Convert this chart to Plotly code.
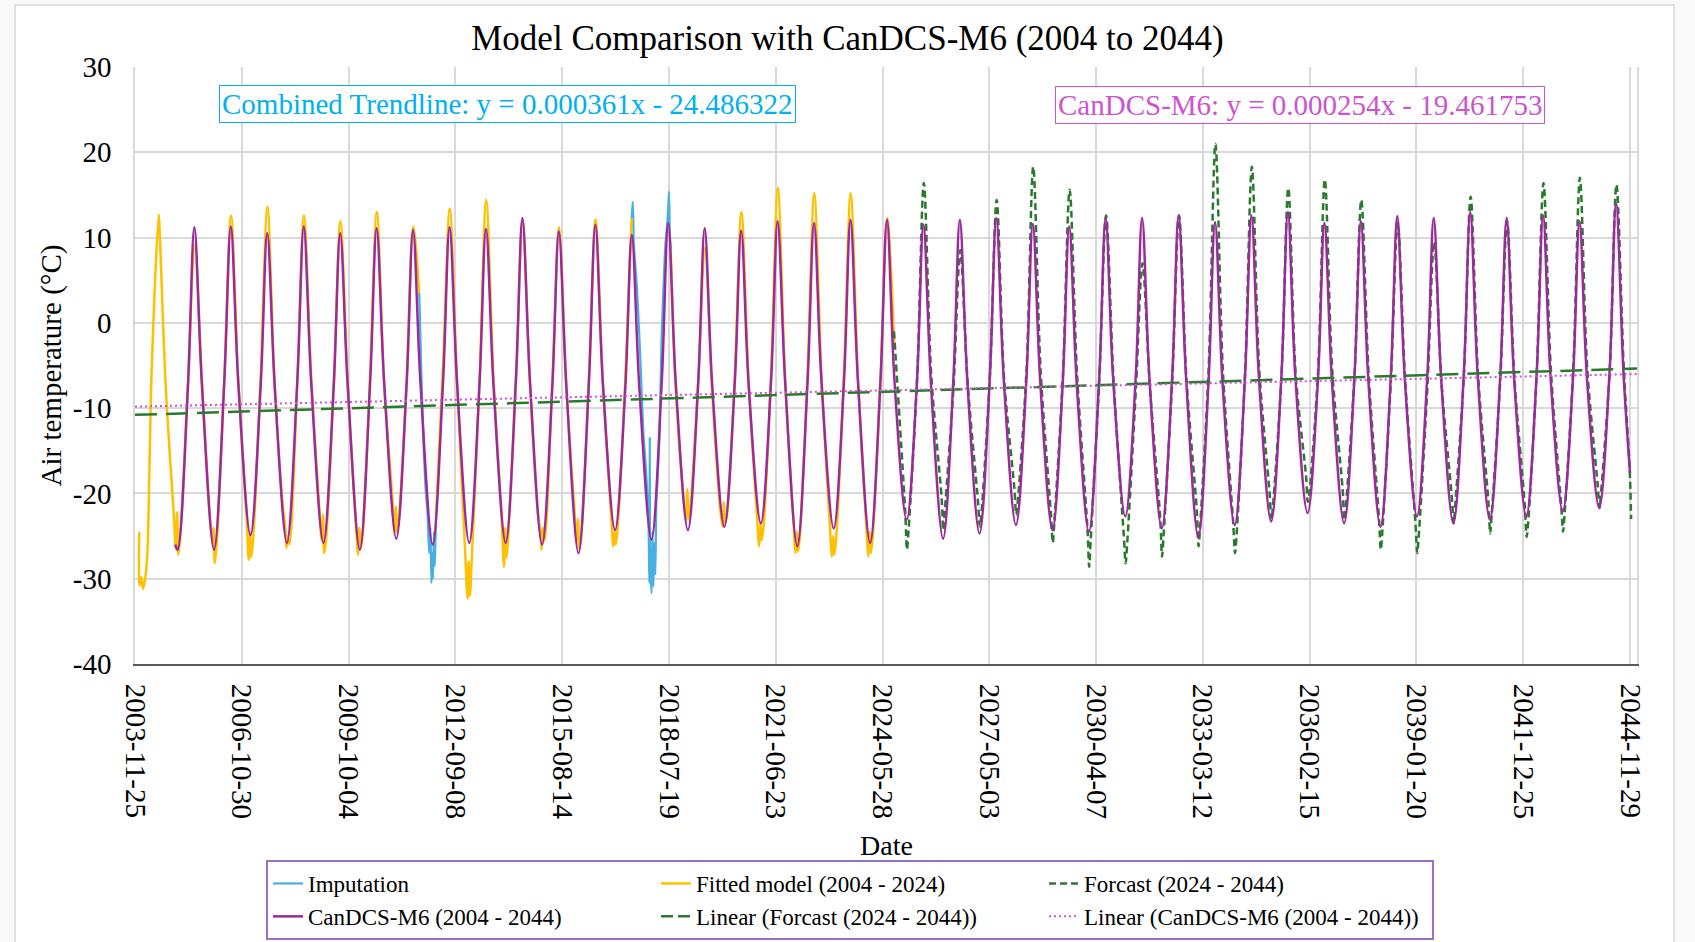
import datetime as dt
import plotly.graph_objects as go

SERIF = "Liberation Serif, Times New Roman, serif"

# ---------------- axis definitions ----------------
date_ticks = ["2003-11-25", "2006-10-30", "2009-10-04", "2012-09-08", "2015-08-14",
              "2018-07-19", "2021-06-23", "2024-05-28", "2027-05-03", "2030-04-07",
              "2033-03-12", "2036-02-15", "2039-01-20", "2041-12-25", "2044-11-29"]
x_start, x_end = "2003-11-25", "2045-02-07"
y_ticks = [-40, -30, -20, -10, 0, 10, 20, 30]
y_tick_text = ["-40", "-30", "-20", "-10", "0", "10", "20", "30"]

# ---------------- trendline equations (x = Excel serial date) ----------------
combined_slope, combined_icpt = 0.000361, -24.486322
candcs_slope, candcs_icpt = 0.000254, -19.461753

# ---------------- CanDCS-M6 (2004 - 2044) ----------------
candcs_md = ("01-25", "05-08", "07-12", "09-25")
candcs_years = list(range(2005, 2045))
candcs_trough = [-26.6, -26.6, -24.9, -25.8, -25.8, -26.6, -25.3, -26.0, -25.8, -25.8,
                 -26.0, -27.0, -24.3, -25.4, -24.3, -23.9, -23.5, -26.2, -24.1, -25.8,
                 -23.1, -25.3, -24.7, -23.7, -24.3, -24.5, -22.7, -24.1, -25.1, -23.7,
                 -23.3, -22.3, -23.5, -23.9, -22.7, -23.5, -23.1, -22.7, -22.1, -21.7]
candcs_spring = [-7.5, -6.8, -7.2, -6.9, -7.4, -7.0, -7.3, -6.8, -7.1, -6.5,
                 -7.3, -7.0, -7.6, -6.9, -7.1, -7.2, -6.6, -6.9, -6.8, -6.7,
                 -6.9, -6.6, -6.5, -6.8, -7.0, -6.5, -6.6, -6.4, -6.9, -6.4,
                 -6.2, -6.7, -6.6, -6.3, -6.4, -6.1, -6.4, -6.2, -6.4, -5.8]
candcs_peak = [11.2, 11.3, 10.5, 11.3, 10.5, 11.1, 10.9, 11.2, 11.0, 12.3,
               10.7, 11.5, 10.3, 11.7, 11.1, 10.8, 11.9, 11.7, 12.1, 12.1,
               11.5, 12.1, 12.3, 11.6, 11.3, 12.3, 12.3, 12.6, 11.8, 12.6,
               13.0, 11.7, 11.9, 12.5, 12.3, 13.0, 12.3, 12.6, 11.9, 14.0]
candcs_autumn = [-7.2, -7.0, -7.4, -7.1, -7.3, -6.9, -7.2, -7.0, -7.3, -6.7,
                 -7.4, -7.1, -7.5, -7.0, -7.2, -7.3, -6.8, -7.0, -6.9, -6.8,
                 -7.1, -6.8, -6.6, -7.0, -7.1, -6.6, -6.8, -6.5, -7.0, -6.5,
                 -6.4, -6.8, -6.7, -6.5, -6.6, -6.3, -6.6, -6.4, -6.6, -6.0]
candcs_head_dates, candcs_head_temp = ["2005-01-01"], [-26.0]
candcs_tail_dates, candcs_tail_temp = ["2044-11-29"], [-17.6]

# ---------------- Fitted model (2004 - 2024) ----------------
fitted_md = ("01-08", "01-20", "02-01", "02-20", "05-08", "07-14", "09-25", "12-16")
fitted_years = [2005, 2006, 2007, 2008, 2009, 2010, 2013, 2014, 2015, 2016,
                2019, 2020, 2021, 2022, 2023]
fitted_jan_a = [-26.5, -25.5, -27.8, -24.0, -25.5, -27.2, -32.3, -28.6, -24.5, -25.5,
                -23.3, -23.9, -26.2, -27.0, -27.4]
fitted_jan_b = [-22.2, -24.0, -24.5, -26.4, -22.5, -24.0, -28.0, -24.0, -26.6, -23.0,
                -19.5, -21.0, -23.5, -24.5, -25.0]
fitted_trough = [-27.2, -28.2, -27.5, -25.0, -27.0, -26.5, -32.0, -27.5, -24.0, -26.6,
                 -23.0, -23.5, -25.5, -26.8, -27.2]
fitted_feb = [-25.0, -26.0, -25.5, -26.0, -25.5, -25.0, -27.5, -25.0, -25.5, -25.0,
              -21.5, -22.5, -24.0, -25.0, -25.0]
fitted_spring = [-7.5, -6.5, -6.0, -7.0, -7.5, -6.0, -7.0, -7.0, -7.0, -6.5,
                 -7.0, -6.5, -6.0, -6.0, -6.0]
fitted_peak = [9.1, 12.6, 13.6, 12.6, 11.9, 13.0, 14.4, 11.9, 11.2, 12.1,
               8.8, 13.0, 15.8, 15.2, 15.2]
fitted_autumn = [-6.5, -7.0, -7.5, -6.5, -7.0, -7.0, -6.5, -7.0, -7.5, -7.0,
                 -8.0, -7.0, -6.5, -6.5, -6.5]
fitted_dec = [-23.0, -22.5, -21.5, -22.0, -23.5, -20.5, -23.0, -22.5, -22.0, -22.5,
              -22.0, -22.5, -23.0, -23.5, -23.5]
# years with record gaps (None = no fitted value, imputation used instead)
fitted_extra_dates = [
    "2004-01-06", "2004-01-09", "2004-01-27", "2004-02-14", "2004-03-10", "2004-03-28",
    "2004-05-10", "2004-07-20", "2004-07-30", "2004-09-28", "2004-12-15",
    "2011-01-08", "2011-01-20", "2011-02-01", "2011-02-20", "2011-05-08", "2011-07-14",
    "2011-09-12", "2011-11-15",
    "2012-02-27", "2012-05-08", "2012-07-14", "2012-09-25", "2012-12-16",
    "2017-01-08", "2017-01-20", "2017-02-01", "2017-02-20", "2017-05-08", "2017-07-10",
    "2017-12-15",
    "2018-08-06", "2018-09-25", "2018-12-16",
    "2024-01-08", "2024-01-20", "2024-02-01", "2024-02-20", "2024-05-08", "2024-07-14",
    "2024-09-25"]
fitted_extra_temp = [
    -24.5, -30.8, -29.8, -31.2, -29.6, -27.0,
    -5.5, 12.7, 10.5, -7.5, -22.0,
    -24.7, -21.5, -24.5, -23.0, -7.0, 11.3,
    3.5, None,
    -22.5, -5.0, 13.4, -7.0, -27.0,
    -26.2, -24.5, -26.0, -24.0, -6.5, 12.3,
    None,
    8.5, -7.5, -21.0,
    -27.4, -24.5, -27.0, -25.0, -6.5, 12.3,
    -3.0]

# ---------------- Imputation ----------------
imput_dates = [
    "2011-09-12", "2011-10-05", "2011-10-28", "2011-11-15", "2011-12-05", "2011-12-20",
    "2012-01-02", "2012-01-12", "2012-01-20", "2012-01-28", "2012-02-06", "2012-02-14",
    "2012-02-27",
    "2014-01-01",
    "2017-07-10", "2017-07-22", "2017-08-02", "2017-08-30", "2017-10-02", "2017-11-05",
    "2017-12-01", "2017-12-25", "2018-01-04", "2018-01-08", "2018-01-12", "2018-01-27",
    "2018-02-05", "2018-02-13", "2018-02-23", "2018-03-05", "2018-03-15", "2018-03-25",
    "2018-04-14", "2018-05-07", "2018-06-10", "2018-07-07", "2018-07-20", "2018-07-28",
    "2018-08-06"]
imput_temp = [
    3.5, -6.5, -15.0, -19.5, -22.5, -27.0,
    -24.0, -30.5, -27.0, -30.0, -24.5, -28.5,
    -22.5,
    None,
    12.3, 14.2, 9.0, 4.6, -3.2, -12.9,
    -17.2, -22.7, -30.5, -13.5, -28.0, -31.7,
    -24.5, -30.9, -25.8, -29.5, -20.8, -18.8,
    -13.7, -1.6, 8.5, 12.5, 15.4, 10.5,
    8.5]

# ---------------- Forecast (2024 - 2044) ----------------
forecast_md = ("01-10", "01-28", "02-12", "05-10", "07-16", "09-28")
forecast_years = list(range(2025, 2045))
forecast_jan = [-22.0, -20.5, -21.0, -19.5, -22.5, -24.0, -25.0, -23.0, -22.0, -23.5,
                -20.0, -18.0, -19.5, -23.0, -23.5, -20.5, -21.0, -21.5, -21.5, -19.0]
forecast_trough = [-26.6, -24.3, -23.9, -22.5, -25.8, -28.6, -28.2, -27.4, -26.2, -27.0,
                   -23.1, -21.0, -23.1, -26.6, -27.0, -23.5, -24.7, -25.1, -24.5, -21.7]
forecast_feb = [-24.5, -22.0, -22.5, -21.0, -23.5, -25.5, -26.0, -25.0, -24.0, -25.0,
                -21.5, -20.0, -21.5, -24.5, -25.0, -21.5, -22.5, -23.5, -22.5, -20.0]
forecast_spring = [-6.5, -7.5, -6.0, -5.5, -6.0, -6.5, -8.0, -6.5, -5.0, -5.5,
                   -6.0, -5.5, -6.0, -6.5, -7.5, -6.0, -6.5, -5.5, -5.5, -5.5]
forecast_peak = [16.4, 8.5, 14.4, 18.3, 15.6, 12.6, 7.0, 12.6, 21.0, 18.3,
                 15.8, 16.8, 14.4, 11.7, 9.5, 14.8, 11.9, 16.4, 17.0, 16.2]
forecast_autumn = [-6.0, -7.0, -6.5, -5.5, -6.0, -6.5, -7.5, -6.5, -5.5, -5.5,
                   -6.0, -5.5, -6.0, -6.5, -7.0, -6.0, -6.5, -5.5, -5.5, -5.5]
forecast_head_dates, forecast_head_temp = ["2024-09-20"], [-1.0]
forecast_tail_dates, forecast_tail_temp = ["2044-11-25", "2044-12-10"], [-17.0, -23.0]


def seasonal(years, month_days, columns):
    """Expand per-year readings into (date, value) pairs."""
    dates, vals = [], []
    for i, yr in enumerate(years):
        for md, col in zip(month_days, columns):
            dates.append(f"{yr}-{md}")
            vals.append(col[i])
    return dates, vals


def merge(*parts):
    pairs = []
    for d, v in parts:
        pairs.extend(zip(d, v))
    pairs.sort(key=lambda p: p[0])
    return [p[0] for p in pairs], [p[1] for p in pairs]


def excel_serial(d):
    return (dt.date.fromisoformat(d) - dt.date(1899, 12, 30)).days


candcs_x, candcs_y = merge(
    (candcs_head_dates, candcs_head_temp),
    seasonal(candcs_years, candcs_md,
             [candcs_trough, candcs_spring, candcs_peak, candcs_autumn]),
    (candcs_tail_dates, candcs_tail_temp))

fitted_x, fitted_y = merge(
    seasonal(fitted_years, fitted_md,
             [fitted_jan_a, fitted_jan_b, fitted_trough, fitted_feb,
              fitted_spring, fitted_peak, fitted_autumn, fitted_dec]),
    (fitted_extra_dates, fitted_extra_temp))

forecast_x, forecast_y = merge(
    (forecast_head_dates, forecast_head_temp),
    seasonal(forecast_years, forecast_md,
             [forecast_jan, forecast_trough, forecast_feb,
              forecast_spring, forecast_peak, forecast_autumn]),
    (forecast_tail_dates, forecast_tail_temp))

trend_x = [x_start, x_end]
combined_trend = [combined_slope * excel_serial(d) + combined_icpt for d in trend_x]
candcs_trend = [candcs_slope * excel_serial(d) + candcs_icpt for d in trend_x]

BLUE = "#45B0E1"
GOLD = "#FFC000"
GREEN = "#2A7A2E"
PURPLE = "#9C2A9C"
PINK = "#CC55CC"
CYAN = "#00B0F0"

fig = go.Figure()
fig.add_trace(go.Scatter(x=imput_dates, y=imput_temp, name="Imputation", mode="lines",
                         line=dict(color=BLUE, width=2.2, shape="spline", smoothing=0.6),
                         connectgaps=False))
fig.add_trace(go.Scatter(x=fitted_x, y=fitted_y, name="Fitted model (2004 - 2024)",
                         mode="lines", connectgaps=False,
                         line=dict(color=GOLD, width=2.5, shape="spline", smoothing=0.9)))
fig.add_trace(go.Scatter(x=forecast_x, y=forecast_y, name="Forcast (2024 - 2044)",
                         mode="lines",
                         line=dict(color=GREEN, width=2.5, dash="7px,4px",
                                   shape="spline", smoothing=0.9)))
fig.add_trace(go.Scatter(x=candcs_x, y=candcs_y, name="CanDCS-M6 (2004 - 2044)",
                         mode="lines",
                         line=dict(color=PURPLE, width=2.5, shape="spline", smoothing=1.0)))
# trendline drawn with long dashes; its key uses a shorter dash so two dashes fit
fig.add_trace(go.Scatter(x=trend_x, y=combined_trend, showlegend=False, mode="lines",
                         name="Linear (Forcast (2024 - 2044))",
                         line=dict(color=GREEN, width=2.5, dash="22px,9px")))
fig.add_trace(go.Scatter(x=[None], y=[None], mode="lines",
                         name="Linear (Forcast (2024 - 2044))",
                         line=dict(color=GREEN, width=2.5, dash="12px,5px")))
fig.add_trace(go.Scatter(x=trend_x, y=candcs_trend,
                         name="Linear (CanDCS-M6 (2004 - 2044))", mode="lines",
                         line=dict(color=PINK, width=2, dash="2px,3px")))

# plot area: left 135, right 1637, top 67, bottom 664 (px)
L, R, T, B = 135, 58, 67, 278
W, H = 1695, 942
PW, PH = W - L - R, H - T - B


def px(xp):
    return (xp - L) / PW


def py(yp):
    return (H - B - yp) / PH


fig.update_layout(
    width=W, height=H,
    margin=dict(l=L, r=R, t=T, b=B, autoexpand=False),
    paper_bgcolor="#F9F9F9",
    plot_bgcolor="white",
    font=dict(family=SERIF, color="black"),
    title=dict(text="Model Comparison with CanDCS-M6 (2004 to 2044)",
               x=0.5, xref="container", xanchor="center",
               y=1 - 38 / H, yref="container", yanchor="middle",
               font=dict(family=SERIF, size=35, color="black")),
    showlegend=True,
    legend=dict(orientation="h", x=px(266), xanchor="left", y=py(860), yanchor="top",
                entrywidth=343, entrywidthmode="pixels",
                bordercolor="#9B6FC8", borderwidth=2, bgcolor="white",
                font=dict(family=SERIF, size=23, color="black"),
                traceorder="normal"),
    xaxis=dict(type="date", range=[x_start, x_end],
               tickmode="array", tickvals=date_ticks, ticktext=date_ticks,
               tickangle=90, tickfont=dict(family=SERIF, size=29, color="black"),
               showgrid=True, gridcolor="#D9D9D9", gridwidth=1.5,
               showline=True, linecolor="#595959", linewidth=2,
               ticks="", ticklabelstandoff=12, zeroline=False),
    yaxis=dict(range=[-40, 30], tickmode="array", tickvals=y_ticks, ticktext=y_tick_text,
               tickfont=dict(family=SERIF, size=29, color="black"),
               showgrid=True, gridcolor="#D9D9D9", gridwidth=1.5,
               showline=True, linecolor="#D9D9D9", linewidth=1.5, mirror=True,
               ticks="", ticklabelstandoff=16, zeroline=False),
    shapes=[dict(type="rect", xref="paper", yref="paper",
                 x0=px(15), x1=px(1674), y0=py(946), y1=py(5),
                 line=dict(color="#D9D9D9", width=1.5), fillcolor="white",
                 layer="below")],
    annotations=[
        dict(text="Air temperature (°C)", textangle=-90, xref="paper", yref="paper",
             x=px(51), y=0.5, showarrow=False, xanchor="center", yanchor="middle",
             font=dict(family=SERIF, size=29, color="black")),
        dict(text="Date", xref="paper", yref="paper", x=px(886), y=py(845),
             showarrow=False, xanchor="center", yanchor="middle",
             font=dict(family=SERIF, size=28, color="black")),
        dict(text="Combined Trendline: y = %.6fx - %.6f" % (combined_slope, -combined_icpt),
             xref="paper", yref="paper", x=px(507), y=py(104), showarrow=False,
             xanchor="center", yanchor="middle",
             font=dict(family=SERIF, size=29, color=CYAN),
             bordercolor=CYAN, borderwidth=1, borderpad=2, bgcolor="white"),
        dict(text="CanDCS-M6: y = %.6fx - %.6f" % (candcs_slope, -candcs_icpt),
             xref="paper", yref="paper", x=px(1300), y=py(105), showarrow=False,
             xanchor="center", yanchor="middle",
             font=dict(family=SERIF, size=29, color=PINK),
             bordercolor=PINK, borderwidth=1, borderpad=2, bgcolor="white"),
    ],
)

fig.write_html("out.html")
